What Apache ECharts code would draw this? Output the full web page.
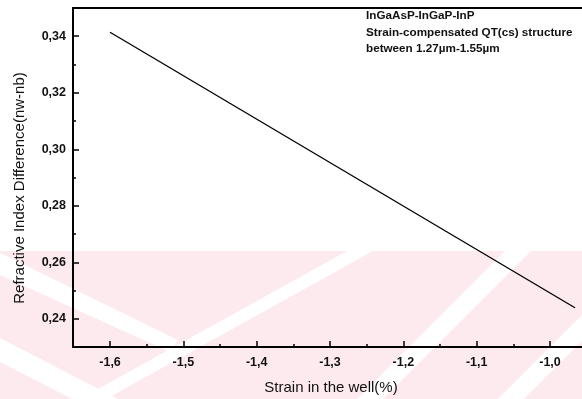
<!DOCTYPE html>
<html>
<head>
<meta charset="utf-8">
<script src="https://cdn.jsdelivr.net/npm/echarts@6/dist/echarts.min.js"></script>
<style>
html,body{margin:0;padding:0;background:#fff;}
#c{width:582px;height:399px;}
</style>
</head>
<body>
<div id="c"></div>
<script>
// Data
var strain = [-1.6, -0.966];
var refrDiff = [0.3414, 0.2439];
var xMajorTicks = [-1.6, -1.5, -1.4, -1.3, -1.2, -1.1, -1.0];
var xMinorTicks = [-1.55, -1.45, -1.35, -1.25, -1.15, -1.05];
var yMajorTicks = [0.24, 0.26, 0.28, 0.30, 0.32, 0.34];
var yMinorTicks = [0.25, 0.27, 0.29, 0.31, 0.33];
var annotation = ['InGaAsP-InGaP-InP', 'Strain-compensated QT(cs) structure', 'between 1.27\u00b5m-1.55\u00b5m'];
var xTitle = 'Strain in the well(%)';
var yTitle = 'Refractive Index Difference(nw-nb)';

var FONT = '"Liberation Sans", Arial, sans-serif';
function comma(v, d) { return v.toFixed(d).replace('.', ','); }

var chart = echarts.init(document.getElementById('c'), null, {renderer: 'canvas'});

var pink = '#fdeaee';
var bg = [
  {type: 'rect', shape: {x: 0, y: 251, width: 582, height: 148}, style: {fill: pink}, z: -10, silent: true}
];
// white diagonal bands of the background watermark
var bands = [
  [[80, 399], [106, 399], [373, 251], [347, 251]],
  [[357, 399], [383, 399], [531, 251], [505, 251]],
  [[498, 399], [524, 399], [582, 341], [582, 315]],
  [[0, 253], [0, 275], [170, 352], [178, 340]],
  [[0, 338], [0, 362], [72, 399], [118, 399]]
];
bands.forEach(function (p) {
  bg.push({type: 'polygon', silent: true, z: -9, shape: {points: p}, style: {fill: '#fff'}});
});

var texts = [];
annotation.forEach(function (t, i) {
  texts.push({type: 'text', left: 366, top: 10 + i * 16.5, silent: true, z: 10,
    style: {text: t, font: 'bold 11.7px ' + FONT, fill: '#111'}});
});
texts.push({type: 'text', x: 331, y: 388, silent: true, z: 10,
  style: {text: xTitle, font: '15px ' + FONT, fill: '#111', align: 'center', verticalAlign: 'middle'}});
texts.push({type: 'text', x: 20, y: 188, rotation: Math.PI / 2, silent: true, z: 10,
  style: {text: yTitle, font: '15px ' + FONT, fill: '#111', align: 'center', verticalAlign: 'middle'}});

var axisLineStyle = {color: '#000', width: 2};

chart.setOption({
  animation: false,
  backgroundColor: 'transparent',
  grid: {left: 73, top: 8, right: 0, bottom: 52, containLabel: false},
  graphic: bg.concat(texts),
  xAxis: [
    {type: 'value', min: -1.6505, max: -0.9564, position: 'bottom',
      axisLine: {show: true, onZero: false, lineStyle: axisLineStyle},
      axisTick: {show: true, inside: true, length: 6, customValues: xMajorTicks, lineStyle: {color: '#000', width: 1.5}},
      axisLabel: {show: true, customValues: xMajorTicks, margin: 9, fontSize: 12.5, fontFamily: FONT, fontWeight: 'bold', color: '#111',
        formatter: function (v) { return comma(v, 1); }},
      splitLine: {show: false}},
    {type: 'value', min: -1.6505, max: -0.9564, position: 'bottom',
      axisLine: {show: false},
      axisTick: {show: true, inside: true, length: 3, customValues: xMinorTicks, lineStyle: {color: '#000', width: 1.5}},
      axisLabel: {show: false},
      splitLine: {show: false}},
    {type: 'value', min: -1.6505, max: -0.9564, position: 'top',
      axisLine: {show: true, onZero: false, lineStyle: axisLineStyle},
      axisTick: {show: false}, axisLabel: {show: false}, splitLine: {show: false}}
  ],
  yAxis: [
    {type: 'value', min: 0.23, max: 0.35, position: 'left',
      axisLine: {show: true, onZero: false, lineStyle: axisLineStyle},
      axisTick: {show: true, inside: true, length: 6, customValues: yMajorTicks, lineStyle: {color: '#000', width: 1.5}},
      axisLabel: {show: true, customValues: yMajorTicks, margin: 7, fontSize: 12.5, fontFamily: FONT, fontWeight: 'bold', color: '#111',
        formatter: function (v) { return comma(v, 2); }},
      splitLine: {show: false}},
    {type: 'value', min: 0.23, max: 0.35, position: 'left',
      axisLine: {show: false},
      axisTick: {show: true, inside: true, length: 3, customValues: yMinorTicks, lineStyle: {color: '#000', width: 1.5}},
      axisLabel: {show: false},
      splitLine: {show: false}}
  ],
  series: [{
    type: 'line',
    xAxisIndex: 0, yAxisIndex: 0,
    data: strain.map(function (x, i) { return [x, refrDiff[i]]; }),
    showSymbol: false, symbol: 'none',
    lineStyle: {color: '#000', width: 1.3},
    z: 5
  }]
});
</script>
</body>
</html>
